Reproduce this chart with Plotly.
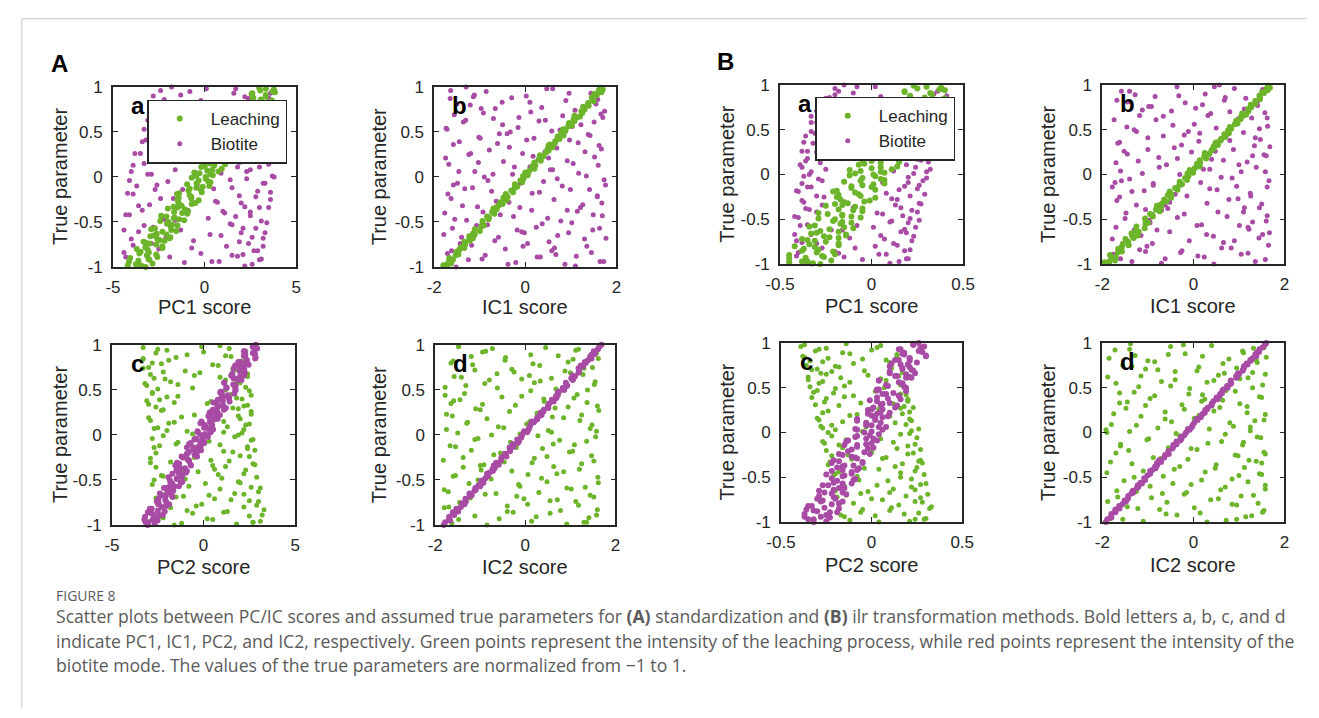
import plotly.graph_objects as go

W, H = 1319, 718
GREEN = "#6cb42a"
PURPLE = "#a84ba5"
AX = "#262626"
FONT = "Liberation Sans"

# ---------------- data ----------------
# true (normalised) parameter of each sample
LEACH_TRUE = [
    -0.99, -0.98, -0.96, -0.93, -0.92, -0.90, -0.87, -0.86, -0.83, -0.81,
    -0.79, -0.78, -0.75, -0.72, -0.71, -0.69, -0.66, -0.64, -0.63, -0.60,
    -0.58, -0.55, -0.54, -0.52, -0.49, -0.47, -0.45, -0.44, -0.41, -0.39,
    -0.36, -0.35, -0.32, -0.30, -0.28, -0.26, -0.23, -0.22, -0.19, -0.17,
    -0.15, -0.12, -0.11, -0.08, -0.06, -0.04, -0.02, 0.01, 0.02, 0.05,
    0.07, 0.09, 0.12, 0.13, 0.16, 0.18, 0.20, 0.23, 0.24, 0.27,
    0.29, 0.31, 0.33, 0.36, 0.38, 0.40, 0.42, 0.45, 0.46, 0.49,
    0.51, 0.53, 0.56, 0.57, 0.60, 0.62, 0.64, 0.67, 0.68, 0.71,
    0.73, 0.75, 0.78, 0.79, 0.82, 0.84, 0.86, 0.88, 0.91, 0.92,
    0.94, 0.96, 0.97, 0.99, -0.97, -0.68, -0.34, 0.03, 0.35, 0.66]
BIOTITE_TRUE = [
    -1.00, -0.97, -0.95, -0.94, -0.91, -0.89, -0.88, -0.85, -0.82, -0.80,
    -0.77, -0.76, -0.74, -0.71, -0.68, -0.67, -0.65, -0.62, -0.59, -0.57,
    -0.56, -0.53, -0.51, -0.48, -0.46, -0.43, -0.42, -0.40, -0.37, -0.34,
    -0.33, -0.31, -0.28, -0.25, -0.24, -0.21, -0.18, -0.16, -0.14, -0.13,
    -0.10, -0.07, -0.05, -0.03, 0.00, 0.03, 0.04, 0.06, 0.08, 0.11,
    0.14, 0.15, 0.17, 0.19, 0.22, 0.25, 0.26, 0.28, 0.30, 0.32,
    0.35, 0.37, 0.39, 0.41, 0.43, 0.44, 0.47, 0.50, 0.52, 0.54,
    0.55, 0.58, 0.61, 0.63, 0.65, 0.66, 0.69, 0.72, 0.74, 0.76,
    0.77, 0.80, 0.81, 0.83, 0.85, 0.87, 0.90, 0.93, 0.95, 0.98,
    1.00, -0.86, -0.61, -0.38, -0.09, 0.21, 0.48, 0.70, 0.89, 0.62]
# a second batch of samples, shown where the clouds / wide bands need it
LEACH_TRUE_2 = [
    -1.00, -0.97, -0.94, -0.91, -0.89, -0.85, -0.84, -0.80, -0.77, -0.74,
    -0.73, -0.70, -0.67, -0.65, -0.61, -0.59, -0.57, -0.53, -0.50, -0.48,
    -0.46, -0.43, -0.40, -0.38, -0.33, -0.31, -0.29, -0.25, -0.24, -0.20,
    -0.18, -0.14, -0.13, -0.10, -0.07, -0.05, -0.01, 0.00, 0.04, 0.06,
    0.08, 0.11, 0.14, 0.15, 0.19, 0.21, 0.22, 0.26, 0.28, 0.30,
    0.32, 0.34, 0.37, 0.39, 0.41, 0.43, 0.44, 0.47, 0.50, 0.52,
    0.55, 0.58, 0.59, 0.61, 0.63, 0.65, 0.69, 0.70, 0.72, 0.74,
    0.77, 0.80, 0.81, 0.83, 0.85, 0.87, 0.89, 0.93, 0.95, 0.98]
BIOTITE_TRUE_2 = [
    -0.99, -0.97, -0.94, -0.92, -0.89, -0.87, -0.84, -0.82, -0.79, -0.77,
    -0.74, -0.72, -0.69, -0.67, -0.64, -0.62, -0.59, -0.57, -0.54, -0.52,
    -0.49, -0.47, -0.44, -0.42, -0.39, -0.37, -0.34, -0.32, -0.29, -0.27,
    -0.24, -0.22, -0.19, -0.17, -0.14, -0.12, -0.09, -0.07, -0.04, -0.02,
    0.01, 0.03, 0.06, 0.08, 0.11, 0.13, 0.16, 0.18, 0.21, 0.23,
    0.26, 0.28, 0.31, 0.33, 0.36, 0.38, 0.41, 0.43, 0.46, 0.48,
    0.51, 0.53, 0.56, 0.58, 0.61, 0.63, 0.66, 0.68, 0.71, 0.73,
    0.76, 0.78, 0.81, 0.83, 0.86, 0.88, 0.91, 0.93, 0.96, 0.98]

# (A) standardization -------------------------------------------------
A_PC1_LEACH = [
    -3.42, -4.19, -2.84, -3.61, -3.01, -4.06, -3.15, -2.64, -3.49, -3.10,
    -2.30, -3.23, -2.64, -3.33, -2.18, -2.58, -2.96, -2.08, -2.61, -1.54,
    -2.91, -1.84, -1.48, -2.05, -2.42, -1.39, -1.64, -2.08, -0.94, -1.66,
    -1.08, -2.00, -1.25, -0.70, -1.43, -0.32, -1.41, -0.73, -1.50, -0.15,
    -0.88, -0.45, -0.10, -0.95, 0.32, -0.32, 0.07, -0.46, 0.45, -0.56,
    0.15, 0.94, 0.01, 0.53, 0.00, 1.11, 0.46, 1.05, 0.04, 0.95,
    1.34, 0.78, 1.73, 0.64, 1.51, 1.26, 1.89, 1.12, 2.28, 1.34,
    1.90, 1.17, 1.92, 2.51, 1.58, 2.45, 2.04, 2.95, 1.63, 2.86,
    2.45, 2.84, 2.15, 3.22, 2.61, 3.64, 3.08, 2.67, 3.34, 2.57,
    3.84, 3.04, 3.79, 2.98, -3.59, -1.91, -1.48, 0.33, 0.44, 2.36]
A_PC1_LEACH_2 = [
    -3.22, -3.75, -4.12, -3.06, -2.58, -3.56, -3.04, -3.70, -2.31, -3.00,
    -3.21, -2.46, -1.87, -2.76, -2.30, -1.82, -2.71, -1.77, -1.98, -1.11,
    -1.68, -2.37, -1.22, -0.91, -1.69, -1.38, -0.50, -1.48, -0.72, -0.82,
    -1.39, -0.20, -0.81, 0.26, -0.43, 0.20, -0.70, 0.06, -0.28, 0.76,
    0.43, -0.18, 1.12, 0.28, 0.98, -0.06, 0.69, 1.40, 0.51, 1.14,
    0.73, 1.76, 1.15, 1.62, 0.74, 1.53, 1.96, 1.35, 2.42, 1.21,
    2.44, 1.67, 2.18, 1.38, 2.57, 2.16, 3.02, 1.94, 2.49, 2.88,
    2.51, 3.26, 2.26, 2.97, 3.68, 2.63, 3.34, 2.61, 3.72, 3.35]
A_PC1_BIOT = [
    -3.2, 2.6, -1.1, 0.4, 3.1, -4.3, 1.8, -0.2, 2.9, -2.5,
    1.2, -3.9, 2.4, -0.6, 3.2, -2.1, 0.9, 2.0, -4.4, 2.8,
    -2.8, 1.5, 3.4, -1.6, 0.2, 2.5, -4.1, 1.1, -3.4, 3.0,
    2.2, -3.0, 0.7, 3.6, -2.4, 1.9, -4.2, 2.9, -1.2, 0.5,
    -3.7, 3.3, -2.0, 1.4, 3.8, -2.9, 0.9, -4.0, 2.5, 1.8,
    3.5, -3.3, 2.1, -2.2, 1.0, 3.0, -3.8, 1.6, -1.8, 3.7,
    -2.6, 2.7, -3.4, 3.9, -1.5, 2.2, -3.0, 3.4, -2.0, 2.9,
    3.2, -2.3, 0.2, -3.1, 3.8, -1.0, 2.6, -2.7, 0.8, 3.5,
    -2.1, 1.2, 3.3, -1.4, -0.2, 2.4, -2.8, 3.6, -0.8, 1.7,
    -1.8, 2.1, -3.6, 1.0, -2.6, 2.6, 0.5, -0.3, 2.2, -1.6]
A_PC1_BIOT_2 = [
    2.2, -3.6, 0.8, 3.0, -1.9, 1.5, -4.4, 2.7, -0.7, 3.2,
    -2.9, 1.9, -4.0, 2.6, 0.3, 3.3, -1.3, 2.1, -3.3, 1.4,
    3.1, -2.2, 1.7, -4.3, 2.5, -0.9, 3.5, -3.6, 2.0, 0.6,
    -1.7, 2.8, -3.9, 3.6, -2.7, 1.5, -0.4, 3.2, -4.1, 2.3,
    3.7, -3.1, 2.3, -1.6, 3.0, -3.9, 1.9, -2.5, 3.4, 0.2,
    -3.5, 2.0, -2.3, 3.8, -0.6, 2.5, -3.2, 3.1, -1.8, 3.6,
    2.4, -3.3, 3.7, -1.5, 3.1, -2.6, 0.4, 3.5, -3.0, -0.5,
    -2.6, 3.2, -0.9, 2.2, -2.2, 3.5, -1.3, 1.6, -2.4, 0.1]
A_IC1_LEACH = [
    -1.73, -1.80, -1.63, -1.67, -1.59, -1.67, -1.53, -1.47, -1.51, -1.45,
    -1.34, -1.42, -1.32, -1.34, -1.22, -1.23, -1.23, -1.11, -1.15, -1.00,
    -1.11, -0.97, -0.91, -0.94, -0.94, -0.81, -0.80, -0.84, -0.68, -0.73,
    -0.63, -0.70, -0.59, -0.50, -0.55, -0.41, -0.48, -0.39, -0.43, -0.27,
    -0.31, -0.23, -0.18, -0.23, -0.07, -0.11, -0.04, -0.05, 0.05, 0.00,
    0.09, 0.20, 0.15, 0.22, 0.20, 0.34, 0.30, 0.40, 0.32, 0.45,
    0.51, 0.49, 0.60, 0.54, 0.65, 0.66, 0.75, 0.71, 0.84, 0.79,
    0.88, 0.83, 0.94, 1.02, 0.96, 1.08, 1.06, 1.20, 1.08, 1.25,
    1.23, 1.30, 1.27, 1.39, 1.38, 1.50, 1.48, 1.46, 1.57, 1.51,
    1.67, 1.61, 1.70, 1.64, -1.72, -1.15, -0.64, 0.05, 0.51, 1.13]
A_IC1_BIOT = [
    -1.52, 0.87, -0.21, 1.64, -0.95, 0.33, 1.12, -1.71, 0.58, -0.44,
    1.35, -1.18, 0.05, -0.67, 1.77, -1.40, 0.71, -0.02, 1.48, -1.60,
    0.24, -0.83, 1.02, -1.29, 0.49, 1.69, -0.55, -1.77, 0.92, -0.12,
    -1.05, 1.26, -0.36, 0.63, -1.63, 1.58, 0.15, -0.74, 1.41, -1.33,
    0.81, -1.49, 0.40, 1.73, -0.90, -0.28, 1.17, -1.11, 0.55, 0.10,
    -1.68, 1.05, -0.48, 0.28, 1.52, -1.24, -0.06, 1.31, -0.79, 0.69,
    1.62, -0.61, -1.45, 0.97, 0.19, -1.02, 1.38, -0.33, 0.76, -1.74,
    -0.16, 1.22, -1.36, 0.44, -0.70, 1.70, -1.56, 0.12, 1.09, -0.97,
    0.36, -1.21, 1.55, -0.51, 0.89, -1.65, 0.02, 1.44, -0.86, 0.60,
    -1.30, 0.67, -0.08, 1.14, -1.58, 0.51, -0.40, 1.66, -1.14, 0.30]
A_IC1_BIOT_2 = [
    1.10, -0.38, 1.72, -1.25, 0.26, -0.88, 1.45, -1.62, 0.64, -0.05,
    -1.43, 0.52, 1.30, -0.59, -1.79, 0.95, -0.18, 1.63, -1.07, 0.37,
    0.78, -1.55, -0.26, 1.49, -0.93, 0.14, 1.21, -1.38, 1.68, -0.64,
    -0.47, 1.58, -1.70, 0.31, 0.99, -1.16, 1.76, -0.11, -0.82, 0.70,
    1.34, -0.71, -1.46, 0.60, -0.24, 1.60, -1.03, 0.92, -1.75, 0.17,
    -1.20, 0.43, 1.67, -0.35, -1.58, 1.16, 0.03, -0.99, 1.42, -0.57,
    0.58, -1.72, 1.03, -0.50, 1.51, -1.31, -0.14, 0.82, -0.92, 1.74,
    -0.66, 1.27, -1.50, 0.10, 1.59, -0.30, -1.12, 0.96, -1.64, 0.47]
A_PC2_LEACH = [
    1.8, -1.2, 3.1, 0.2, -2.2, 2.5, -0.6, 1.1, 3.3, -1.8,
    -0.4, 2.9, -2.5, 1.5, 0.6, -1.5, 2.2, -2.0, 3.0, 0.9,
    2.6, -2.8, 0.1, 1.9, -1.0, 2.9, -2.3, 0.8, -0.3, 2.3,
    -2.6, 1.2, 2.7, -1.8, 0.4, -2.9, 2.0, -0.9, 1.6, 2.8,
    2.4, -2.4, 0.9, -1.4, 2.6, -2.8, 1.7, -0.6, 2.1, -2.0,
    -2.7, 1.3, 2.5, -1.9, -2.9, 2.0, -1.2, 2.6, 0.7, -2.3,
    1.9, -2.6, 2.4, -1.6, -3.1, 2.1, -2.0, 1.5, -2.8, 2.5,
    -2.5, 2.3, -1.4, -3.2, 1.8, -2.1, 0.9, -2.9, 2.4, -1.0,
    1.6, -3.0, 0.5, -2.3, 2.1, -3.3, -1.5, 1.2, -2.6, 0.0,
    -2.0, 1.4, -3.3, 0.9, 2.7, -1.1, 0.5, 1.1, 0.2, -0.5]
A_PC2_LEACH_2 = [
    -1.6, 2.7, 0.5, -2.3, 3.2, 1.3, -0.9, 2.2, -0.1, 3.0,
    2.5, -2.6, 0.3, 1.7, -1.9, 3.1, -0.8, 2.0, -2.7, 1.0,
    -2.2, 2.2, -1.1, 0.6, 2.8, -2.9, 1.4, -0.5, 2.5, -2.6,
    1.1, -2.7, 2.4, -1.5, 0.3, 2.7, -2.2, 1.9, -0.9, 2.2,
    -2.5, 2.3, -1.6, 1.1, -3.0, 1.9, -0.5, 2.6, -2.2, 1.6,
    2.2, -3.0, 0.4, -2.4, 1.8, -1.4, 2.6, -2.8, 1.2, -0.6,
    -3.1, 2.0, -1.8, 1.2, -2.7, 2.4, -0.2, -2.2, 1.7, -3.3,
    0.8, -2.8, 2.0, -1.9, -3.3, 1.5, -0.9, 2.3, -2.5, -0.1]
A_PC2_BIOT = [
    -3.05, -3.16, -2.51, -2.78, -3.19, -2.43, -2.75, -2.12, -2.83, -2.27,
    -1.88, -2.45, -2.05, -2.46, -2.07, -1.74, -2.39, -1.80, -2.01, -1.35,
    -1.82, -1.24, -1.83, -1.44, -1.18, -1.70, -1.37, -0.91, -1.02, -1.54,
    -0.71, -1.45, -0.81, -1.13, -0.35, -0.91, -0.32, -0.56, -0.91, -0.28,
    -0.79, 0.00, -0.50, -0.04, -0.15, 0.39, -0.33, 0.32, 0.18, 0.07,
    0.36, -0.11, 0.59, 0.35, 0.89, 0.33, 0.75, 0.51, 1.22, 0.83,
    0.72, 1.42, 0.78, 1.39, 1.10, 1.33, 0.91, 1.75, 1.26, 1.72,
    1.75, 1.13, 2.07, 1.63, 1.99, 1.51, 2.25, 1.99, 1.65, 2.20,
    1.73, 2.32, 2.00, 2.36, 2.82, 2.27, 2.81, 2.25, 2.81, 2.69,
    2.85, -3.04, -1.67, -1.30, 0.04, 0.51, 0.99, 2.18, 2.28, 2.05]
A_PC2_BIOT_2 = [
    -2.67, -3.01, -3.23, -2.57, -2.23, -2.87, -2.49, -2.93, -2.04, -2.48,
    -2.55, -2.09, -1.70, -2.24, -1.96, -1.65, -2.16, -1.60, -1.72, -1.16,
    -1.47, -1.91, -1.18, -0.97, -1.48, -1.27, -0.69, -1.33, -0.79, -0.88,
    -1.20, -0.49, -0.80, -0.14, -0.56, -0.15, -0.71, -0.20, -0.42, 0.24,
    0.08, -0.31, 0.52, 0.03, 0.47, -0.17, 0.36, 0.77, 0.26, 0.67,
    0.45, 1.11, 0.75, 1.06, 0.54, 1.05, 1.39, 1.00, 1.68, 0.94,
    1.73, 1.24, 1.62, 1.13, 1.92, 1.68, 2.21, 1.57, 1.96, 2.22,
    2.00, 2.46, 1.90, 2.36, 2.84, 2.20, 2.69, 2.20, 2.93, 2.69]
A_IC2_LEACH = [
    0.92, -1.63, 0.14, -0.58, 1.41, -1.12, 0.55, -0.27, 1.60, -1.80,
    -0.40, 1.18, -1.46, 0.71, -0.03, 1.52, -0.89, 0.30, -1.71, 1.02,
    1.33, -0.15, -1.25, 0.48, -0.76, 1.61, -1.55, 0.06, 0.85, -0.98,
    -1.38, 0.63, 1.25, -0.47, -1.82, 0.20, 1.47, -0.70, 0.98, -1.20,
    0.38, -1.67, 1.09, -0.33, 0.76, -1.05, 1.56, -0.12, -1.50, 0.51,
    1.44, -0.60, 0.03, -1.30, 1.21, -0.85, 0.60, -1.75, 0.26, 1.63,
    -1.10, 0.95, -0.22, 1.37, -1.59, 0.41, -0.52, 1.15, -1.35, 0.12,
    0.68, -1.78, 1.53, -0.90, 0.33, -0.08, -1.42, 1.28, -0.63, 0.88,
    -0.30, 1.49, -1.17, 0.17, -1.60, 1.06, -0.44, 0.73, 1.58, -0.95,
    1.12, -0.73, 0.45, -1.48, 1.36, -0.19, -1.00, 0.58, -1.65, 0.09]
A_IC2_LEACH_2 = [
    -0.85, 1.30, -1.48, 0.24, 1.58, -0.40, 0.78, -1.70, 0.05, 1.12,
    0.55, -1.22, 1.44, -0.65, -1.80, 0.92, -0.12, 1.62, -1.05, 0.36,
    -1.60, 0.70, -0.30, 1.20, -0.92, 0.15, 1.52, -1.38, 0.48, -0.55,
    1.05, -0.20, -1.55, 0.62, 1.36, -1.12, 0.28, -0.75, 1.58, -1.75,
    -0.48, 1.48, -1.28, 0.10, 0.85, -1.62, 1.25, -0.35, -1.00, 0.66,
    1.60, -0.95, 0.42, -1.45, 1.08, -0.08, -1.78, 0.75, 1.38, -0.62,
    -1.32, 0.20, 1.55, -0.80, 0.58, -1.58, 1.00, -0.25, -1.12, 1.30,
    0.32, -1.65, 0.95, -0.45, 1.62, -1.20, 0.12, -0.88, 1.18, -1.48]
A_IC2_BIOT = [
    -1.81, -1.78, -1.67, -1.69, -1.69, -1.58, -1.60, -1.49, -1.53, -1.43,
    -1.35, -1.40, -1.32, -1.33, -1.24, -1.19, -1.24, -1.13, -1.11, -1.00,
    -1.04, -0.93, -0.98, -0.89, -0.83, -0.85, -0.80, -0.72, -0.68, -0.70,
    -0.59, -0.65, -0.54, -0.53, -0.42, -0.45, -0.34, -0.34, -0.35, -0.26,
    -0.28, -0.14, -0.18, -0.09, -0.07, 0.04, -0.03, 0.07, 0.09, 0.11,
    0.19, 0.15, 0.26, 0.26, 0.36, 0.34, 0.40, 0.41, 0.51, 0.50,
    0.53, 0.63, 0.59, 0.69, 0.68, 0.72, 0.72, 0.86, 0.83, 0.91,
    0.93, 0.90, 1.05, 1.02, 1.10, 1.05, 1.18, 1.19, 1.18, 1.28,
    1.23, 1.34, 1.32, 1.39, 1.47, 1.44, 1.54, 1.52, 1.61, 1.64,
    1.69, -1.61, -1.10, -0.73, -0.17, 0.31, 0.74, 1.19, 1.47, 1.06]

# (B) ilr transformation ----------------------------------------------
B_PC1_LEACH = [
    -0.32, -0.45, -0.22, -0.36, -0.26, -0.45, -0.30, -0.21, -0.37, -0.31,
    -0.18, -0.34, -0.25, -0.38, -0.18, -0.26, -0.33, -0.18, -0.28, -0.10,
    -0.34, -0.17, -0.11, -0.21, -0.29, -0.11, -0.16, -0.24, -0.05, -0.18,
    -0.09, -0.25, -0.13, -0.04, -0.17, 0.02, -0.18, -0.07, -0.21, 0.02,
    -0.11, -0.05, 0.01, -0.15, 0.07, -0.05, 0.02, -0.09, 0.07, -0.12,
    0.00, 0.14, -0.04, 0.05, -0.05, 0.14, 0.02, 0.11, -0.06, 0.09,
    0.15, 0.04, 0.20, 0.00, 0.15, 0.10, 0.21, 0.06, 0.26, 0.09,
    0.18, 0.05, 0.17, 0.27, 0.10, 0.25, 0.17, 0.32, 0.09, 0.29,
    0.21, 0.28, 0.15, 0.33, 0.22, 0.39, 0.29, 0.21, 0.32, 0.18,
    0.40, 0.25, 0.38, 0.23, -0.35, -0.14, -0.16, 0.05, -0.03, 0.22]
B_PC1_LEACH_2 = [
    -0.28, -0.38, -0.45, -0.27, -0.20, -0.38, -0.29, -0.42, -0.18, -0.31,
    -0.35, -0.23, -0.14, -0.30, -0.23, -0.15, -0.31, -0.16, -0.20, -0.06,
    -0.16, -0.29, -0.10, -0.05, -0.20, -0.15, -0.01, -0.19, -0.06, -0.09,
    -0.19, 0.00, -0.11, 0.07, -0.06, 0.05, -0.12, 0.01, -0.06, 0.11,
    0.05, -0.07, 0.15, 0.00, 0.12, -0.08, 0.06, 0.17, 0.01, 0.11,
    0.03, 0.21, 0.09, 0.17, 0.01, 0.14, 0.21, 0.10, 0.28, 0.06,
    0.27, 0.12, 0.21, 0.06, 0.26, 0.19, 0.33, 0.13, 0.23, 0.29,
    0.21, 0.34, 0.16, 0.28, 0.40, 0.21, 0.33, 0.18, 0.37, 0.30]
B_PC1_BIOT = [
    -0.33, 0.15, -0.05, 0.20, -0.41, 0.08, -0.18, 0.18, -0.27, 0.02,
    0.12, -0.38, 0.22, -0.12, 0.05, -0.42, 0.19, -0.22, 0.24, -0.08,
    -0.35, 0.10, 0.26, -0.40, 0.17, 0.03, -0.30, 0.22, -0.10, 0.13,
    0.27, -0.37, 0.14, -0.26, 0.21, 0.08, -0.41, 0.25, -0.33, 0.18,
    -0.38, 0.28, -0.29, 0.20, -0.34, 0.30, 0.12, -0.25, 0.24, -0.39,
    0.31, -0.36, 0.25, -0.20, 0.33, -0.30, -0.38, 0.29, -0.26, 0.22,
    -0.32, 0.35, -0.24, 0.30, -0.36, 0.37, -0.15, 0.32, -0.28, 0.27,
    0.38, -0.30, 0.33, -0.21, -0.33, 0.36, -0.12, 0.40, -0.26, 0.31,
    -0.22, 0.37, -0.12, 0.41, -0.25, 0.05, 0.34, -0.18, 0.39, -0.08,
    -0.15, -0.20, 0.18, -0.36, 0.06, 0.34, -0.33, 0.35, -0.20, -0.29]
B_PC1_BIOT_2 = [
    0.10, -0.36, 0.19, -0.15, 0.04, -0.40, 0.21, -0.09, 0.14, -0.30,
    -0.41, 0.07, 0.23, -0.33, 0.16, -0.16, 0.01, -0.39, 0.20, 0.11,
    0.21, -0.42, 0.06, 0.25, -0.34, 0.16, -0.27, 0.26, -0.38, 0.11,
    -0.30, 0.29, -0.40, 0.15, -0.35, 0.26, 0.20, -0.27, 0.30, -0.37,
    0.23, -0.33, 0.32, -0.38, 0.19, -0.28, 0.27, -0.35, 0.31, -0.24,
    -0.35, 0.36, -0.29, 0.28, -0.37, 0.33, -0.22, 0.37, -0.31, 0.24,
    0.39, -0.28, 0.35, -0.33, -0.18, 0.37, -0.24, 0.33, -0.30, 0.40,
    -0.27, 0.38, -0.15, 0.33, -0.23, 0.41, -0.10, 0.36, -0.20, 0.02]
B_IC1_LEACH = [
    -1.85, -1.95, -1.72, -1.80, -1.70, -1.83, -1.66, -1.57, -1.65, -1.57,
    -1.42, -1.55, -1.43, -1.49, -1.31, -1.34, -1.36, -1.20, -1.27, -1.07,
    -1.25, -1.05, -0.99, -1.05, -1.06, -0.89, -0.90, -0.95, -0.74, -0.82,
    -0.71, -0.80, -0.68, -0.59, -0.64, -0.49, -0.56, -0.48, -0.52, -0.35,
    -0.40, -0.31, -0.25, -0.30, -0.14, -0.18, -0.11, -0.13, -0.01, -0.08,
    0.03, 0.14, 0.08, 0.15, 0.14, 0.28, 0.24, 0.35, 0.25, 0.40,
    0.45, 0.44, 0.54, 0.51, 0.60, 0.61, 0.70, 0.68, 0.78, 0.76,
    0.83, 0.80, 0.91, 0.97, 0.94, 1.04, 1.04, 1.16, 1.07, 1.21,
    1.20, 1.27, 1.26, 1.36, 1.36, 1.46, 1.46, 1.45, 1.55, 1.51,
    1.63, 1.61, 1.68, 1.64, -1.85, -1.22, -0.73, -0.01, 0.48, 1.10]
B_IC1_BIOT = [
    0.45, -1.35, 1.58, -0.62, 0.10, -1.76, 1.20, -0.25, 0.83, -1.02,
    -1.55, 0.66, -0.09, 1.44, -1.15, 0.29, 1.67, -0.80, -1.70, 1.01,
    0.18, 1.30, -0.97, -0.35, 1.62, -1.48, 0.54, -0.70, 1.12, -1.25,
    1.50, -0.52, 0.78, -1.62, -0.14, 1.25, -1.08, 0.36, -1.78, 0.95,
    -0.88, 1.66, -1.40, 0.61, -0.30, 1.05, -1.60, 0.22, 1.38, -0.59,
    1.18, -1.21, 0.40, -0.76, 1.55, -0.04, -1.52, 0.88, -0.42, 1.34,
    -1.66, 0.12, 1.47, -1.00, 0.72, -0.20, 1.10, -1.30, 0.50, 1.63,
    -0.45, 0.93, -1.74, 1.28, -0.66, 0.32, 1.57, -1.12, 0.05, -0.92,
    1.41, -0.18, -1.44, 0.68, 1.15, -0.84, 0.26, -1.58, 1.52, -0.36,
    0.57, -1.05, 1.22, -0.56, -1.72, 1.60, -0.11, 0.80, -1.28, 0.98]
B_IC1_BIOT_2 = [
    -0.70, 1.36, -1.60, 0.24, 1.05, -0.28, -1.18, 0.62, 1.65, -0.90,
    0.90, -1.78, 0.44, 1.52, -0.52, -1.30, 1.20, 0.08, -0.95, 1.60,
    -1.50, 0.74, -0.20, 1.10, -1.05, 1.45, -0.62, 0.30, -1.68, 0.98,
    1.26, -0.40, -1.35, 0.52, 1.62, -0.88, 0.16, -1.58, 0.85, -0.12,
    -1.12, 1.58, 0.36, -0.75, 1.00, -1.70, 0.66, -0.35, 1.30, -1.45,
    0.48, -1.00, 1.68, -0.26, -1.62, 0.80, 1.36, -0.66, 0.14, -1.25,
    1.45, -1.46, 0.02, 0.95, -0.82, 1.62, -1.18, 0.38, -0.48, 1.12,
    -0.98, 0.20, 1.40, -1.68, 0.70, -0.32, 1.55, -1.40, 0.90, 0.46]
B_PC2_LEACH = [
    0.21, -0.12, 0.30, 0.02, -0.17, 0.26, 0.10, -0.05, 0.33, 0.15,
    -0.10, 0.28, 0.06, -0.19, 0.19, 0.31, -0.02, 0.24, 0.12, -0.15,
    0.27, -0.21, 0.09, 0.22, -0.08, 0.29, 0.16, -0.18, 0.04, 0.25,
    -0.24, 0.17, 0.26, -0.11, 0.08, -0.22, 0.23, 0.00, 0.27, -0.16,
    0.20, -0.26, 0.12, -0.14, 0.25, -0.22, 0.16, -0.05, 0.22, -0.27,
    -0.28, 0.19, -0.16, 0.22, -0.30, 0.10, -0.08, 0.21, -0.24, 0.16,
    0.18, -0.31, -0.06, 0.20, -0.25, -0.15, 0.19, -0.32, 0.02, -0.20,
    -0.34, 0.16, -0.12, -0.27, 0.05, -0.35, -0.02, 0.17, -0.22, -0.30,
    -0.18, -0.36, 0.10, -0.27, -0.05, -0.37, 0.14, -0.12, -0.31, 0.00,
    -0.25, -0.39, 0.05, -0.14, 0.24, -0.06, 0.28, -0.20, 0.20, -0.28]
B_PC2_LEACH_2 = [
    0.04, 0.29, -0.15, 0.18, -0.06, 0.32, 0.11, -0.18, 0.24, 0.00,
    0.27, -0.14, 0.10, -0.20, 0.22, 0.03, 0.30, -0.07, 0.16, -0.21,
    -0.20, 0.24, -0.04, 0.13, -0.23, 0.27, 0.06, -0.13, 0.20, -0.25,
    0.14, -0.18, 0.24, -0.27, 0.05, -0.09, 0.21, -0.24, 0.26, -0.03,
    -0.22, 0.13, -0.29, 0.21, -0.12, 0.17, -0.27, 0.04, 0.23, -0.18,
    0.12, -0.26, 0.20, -0.33, -0.10, 0.16, -0.21, -0.30, 0.07, -0.15,
    -0.29, 0.08, -0.35, -0.17, 0.15, -0.25, -0.04, -0.33, 0.11, -0.20,
    -0.10, -0.34, 0.08, -0.24, -0.38, 0.14, -0.16, -0.29, 0.03, -0.37]
B_PC2_BIOT = [
    -0.32, -0.35, -0.23, -0.28, -0.37, -0.23, -0.30, -0.18, -0.33, -0.22,
    -0.16, -0.27, -0.20, -0.29, -0.22, -0.16, -0.29, -0.18, -0.24, -0.11,
    -0.21, -0.10, -0.22, -0.15, -0.11, -0.22, -0.16, -0.07, -0.10, -0.22,
    -0.05, -0.21, -0.09, -0.16, -0.01, -0.13, -0.02, -0.08, -0.15, -0.03,
    -0.14, 0.01, -0.09, -0.01, -0.04, 0.06, -0.09, 0.04, 0.00, -0.03,
    0.02, -0.08, 0.06, 0.00, 0.10, -0.02, 0.06, 0.01, 0.14, 0.06,
    0.03, 0.16, 0.03, 0.15, 0.08, 0.12, 0.03, 0.19, 0.09, 0.17,
    0.17, 0.04, 0.22, 0.13, 0.19, 0.10, 0.23, 0.17, 0.10, 0.20,
    0.11, 0.21, 0.15, 0.21, 0.30, 0.18, 0.28, 0.16, 0.27, 0.23,
    0.26, -0.36, -0.16, -0.16, 0.03, 0.03, 0.04, 0.22, 0.18, 0.21]
B_PC2_BIOT_2 = [
    -0.25, -0.32, -0.37, -0.25, -0.19, -0.32, -0.26, -0.35, -0.18, -0.28,
    -0.30, -0.21, -0.14, -0.26, -0.21, -0.15, -0.27, -0.16, -0.19, -0.09,
    -0.16, -0.25, -0.11, -0.08, -0.19, -0.15, -0.05, -0.18, -0.08, -0.11,
    -0.18, -0.04, -0.11, 0.01, -0.08, 0.00, -0.13, -0.03, -0.08, 0.04,
    0.00, -0.08, 0.08, -0.03, 0.05, -0.08, 0.02, 0.09, -0.02, 0.05,
    0.00, 0.13, 0.05, 0.10, -0.01, 0.09, 0.15, 0.06, 0.19, 0.03,
    0.18, 0.08, 0.15, 0.04, 0.19, 0.14, 0.24, 0.10, 0.17, 0.21,
    0.16, 0.25, 0.13, 0.21, 0.30, 0.17, 0.26, 0.15, 0.29, 0.23]
B_IC2_LEACH = [
    -1.10, 0.72, -1.82, 1.28, -0.36, 0.15, 1.55, -0.74, -1.45, 0.95,
    1.42, -0.58, 0.38, -1.66, 1.05, -0.20, -1.25, 0.60, 1.58, -0.95,
    -0.05, 1.20, -1.52, 0.85, -0.66, 1.50, -1.90, 0.26, -0.42, 1.12,
    0.50, -1.35, 1.38, -0.12, -0.88, 0.98, -1.70, 1.55, 0.08, -0.55,
    -1.60, 0.32, 1.10, -1.02, 1.48, -0.30, 0.70, -1.40, 1.25, -0.78,
    0.88, -1.80, -0.48, 1.35, 0.02, -1.15, 1.58, -0.62, 0.45, -1.48,
    1.18, -0.25, -1.62, 0.64, -0.95, 1.45, 0.20, -1.30, 0.92, -0.08,
    -1.20, 1.52, 0.30, -0.70, 1.02, -1.88, 0.55, 1.30, -0.40, -1.05,
    0.12, -1.55, 1.40, -0.85, 0.78, 1.60, -1.28, -0.18, 1.08, -1.72,
    1.32, -0.50, 0.40, -1.38, 0.95, -0.68, 1.50, -1.92, 0.18, 0.68]
B_IC2_LEACH_2 = [
    0.30, -1.55, 1.15, -0.60, 1.52, -1.22, 0.02, 0.85, -1.88, 0.55,
    -0.92, 1.32, -0.15, -1.68, 0.70, 1.58, -0.45, 0.18, -1.30, 1.00,
    1.45, -1.10, 0.48, -0.30, -1.82, 1.22, -0.72, 0.92, 1.58, -1.42,
    -0.05, 1.08, -1.60, 0.62, -0.98, 1.40, -0.38, -1.90, 0.35, 1.25,
    -1.25, 0.80, 1.55, -0.62, 0.12, -1.75, 1.18, -0.20, 0.58, -1.05,
    1.02, -1.45, 0.25, 1.50, -0.85, -0.10, -1.62, 0.72, 1.30, -0.50,
    -1.70, 0.45, -0.40, 1.20, -1.15, 1.58, 0.08, -0.78, 0.95, -1.35,
    0.65, -1.00, 1.38, -1.85, 0.20, -0.55, 1.10, -1.40, 1.55, -0.22]
B_IC2_BIOT = [
    -1.92, -1.89, -1.80, -1.81, -1.80, -1.71, -1.72, -1.62, -1.63, -1.56,
    -1.48, -1.51, -1.44, -1.43, -1.36, -1.32, -1.33, -1.24, -1.22, -1.13,
    -1.16, -1.06, -1.08, -1.01, -0.95, -0.95, -0.90, -0.83, -0.80, -0.80,
    -0.71, -0.75, -0.64, -0.62, -0.54, -0.55, -0.46, -0.44, -0.44, -0.37,
    -0.37, -0.26, -0.27, -0.20, -0.16, -0.08, -0.12, -0.03, -0.02, 0.02,
    0.09, 0.07, 0.16, 0.17, 0.25, 0.26, 0.30, 0.32, 0.40, 0.40,
    0.44, 0.53, 0.51, 0.58, 0.59, 0.63, 0.64, 0.75, 0.74, 0.81,
    0.83, 0.82, 0.94, 0.94, 1.00, 0.98, 1.08, 1.11, 1.11, 1.19,
    1.17, 1.26, 1.25, 1.30, 1.38, 1.36, 1.44, 1.45, 1.52, 1.57,
    1.60, -1.71, -1.21, -0.84, -0.29, 0.21, 0.66, 1.09, 1.39, 0.96]

# tick labels
Y_TICKS = [-1, -0.5, 0, 0.5, 1]
Y_TICK_TEXT = ["-1", "-0.5", "0", "0.5", "1"]
PC_A_TICKS = [-5, 0, 5]
PC_A_TEXT = ["-5", "0", "5"]
IC_TICKS = [-2, 0, 2]
IC_TEXT = ["-2", "0", "2"]
PC_B_TICKS = [-0.5, 0, 0.5]
PC_B_TEXT = ["-0.5", "0", "0.5"]

SERIES_NAMES = ["Leaching", "Biotite"]
PANEL_LETTERS = ["a", "b", "c", "d"]
CAPTION_TITLE = "FIGURE 8"
CAPTION_LINES = [
    "Scatter plots between PC/IC scores and assumed true parameters for <b>(A)</b> standardization and <b>(B)</b> ilr transformation methods. Bold letters a, b, c, and d",
    "indicate PC1, IC1, PC2, and IC2, respectively. Green points represent the intensity of the leaching process, while red points represent the intensity of the",
    "biotite mode. The values of the true parameters are normalized from \u22121 to 1.",
]

# ---------------- panel layout (pixel boxes: left, top, right, bottom) ----------------
panels = [
    dict(box=(100, 80, 287, 265), xr=[-5, 5], xt=PC_A_TICKS, xtt=PC_A_TEXT, xtitle="PC1 score",
         letter=PANEL_LETTERS[0], leach=A_PC1_LEACH, leach2=A_PC1_LEACH_2,
         biot=A_PC1_BIOT, biot2=A_PC1_BIOT_2, band="leach", legend="legend", ytx=46, xty=306),
    dict(box=(428, 80, 614, 265), xr=[-2, 2], xt=IC_TICKS, xtt=IC_TEXT, xtitle="IC1 score",
         letter=PANEL_LETTERS[1], leach=A_IC1_LEACH, leach2=None,
         biot=A_IC1_BIOT, biot2=A_IC1_BIOT_2, band="leach", legend=None, ytx=372, xty=306),
    dict(box=(99, 345, 286, 530), xr=[-5, 5], xt=PC_A_TICKS, xtt=PC_A_TEXT, xtitle="PC2 score",
         letter=PANEL_LETTERS[2], leach=A_PC2_LEACH, leach2=A_PC2_LEACH_2,
         biot=A_PC2_BIOT, biot2=A_PC2_BIOT_2, band="biot", legend=None, ytx=46, xty=573),
    dict(box=(429, 345, 613, 530), xr=[-2, 2], xt=IC_TICKS, xtt=IC_TEXT, xtitle="IC2 score",
         letter=PANEL_LETTERS[3], leach=A_IC2_LEACH, leach2=A_IC2_LEACH_2,
         biot=A_IC2_BIOT, biot2=None, band="biot", legend=None, ytx=372, xty=573),
    dict(box=(781, 78, 968, 262), xr=[-0.5, 0.5], xt=PC_B_TICKS, xtt=PC_B_TEXT, xtitle="PC1 score",
         letter=PANEL_LETTERS[0], leach=B_PC1_LEACH, leach2=B_PC1_LEACH_2,
         biot=B_PC1_BIOT, biot2=B_PC1_BIOT_2, band="leach", legend="legend2", ytx=726, xty=305),
    dict(box=(1110, 78, 1296, 262), xr=[-2, 2], xt=IC_TICKS, xtt=IC_TEXT, xtitle="IC1 score",
         letter=PANEL_LETTERS[1], leach=B_IC1_LEACH, leach2=None,
         biot=B_IC1_BIOT, biot2=B_IC1_BIOT_2, band="leach", legend=None, ytx=1054, xty=305),
    dict(box=(782, 343, 967, 527), xr=[-0.5, 0.5], xt=PC_B_TICKS, xtt=PC_B_TEXT, xtitle="PC2 score",
         letter=PANEL_LETTERS[2], leach=B_PC2_LEACH, leach2=B_PC2_LEACH_2,
         biot=B_PC2_BIOT, biot2=B_PC2_BIOT_2, band="biot", legend=None, ytx=727, xty=571),
    dict(box=(1110, 343, 1296, 527), xr=[-2, 2], xt=IC_TICKS, xtt=IC_TEXT, xtitle="IC2 score",
         letter=PANEL_LETTERS[3], leach=B_IC2_LEACH, leach2=B_IC2_LEACH_2,
         biot=B_IC2_BIOT, biot2=None, band="biot", legend=None, ytx=1055, xty=571),
]


def px(xp):
    return xp / W


def py(yp):
    return 1 - yp / H


def pts(xs, ys, xs2, ys2):
    if xs2 is None:
        return list(xs), list(ys)
    return list(xs) + list(xs2), list(ys) + list(ys2)


fig = go.Figure()
annotations = []
axis_common = dict(showgrid=False, zeroline=False, showline=True, linecolor=AX, linewidth=1.6,
                   mirror="ticks", ticks="inside", ticklen=5, tickwidth=1.2, tickcolor=AX,
                   tickfont=dict(family=FONT, size=17, color=AX), tickmode="array",
                   fixedrange=True)

for i, p in enumerate(panels, start=1):
    xa = "x" if i == 1 else f"x{i}"
    ya = "y" if i == 1 else f"y{i}"
    show = p["legend"] is not None
    leg = p["legend"] or "legend"
    lx, ly = pts(p["leach"], LEACH_TRUE, p["leach2"], LEACH_TRUE_2)
    bx, by = pts(p["biot"], BIOTITE_TRUE, p["biot2"], BIOTITE_TRUE_2)
    l_size = 6 if p["band"] == "leach" else 5
    b_size = 6 if p["band"] == "biot" else 5
    leach_tr = go.Scatter(x=lx, y=ly, mode="markers", name=SERIES_NAMES[0],
                          marker=dict(color=GREEN, size=l_size, line=dict(width=0)),
                          xaxis=xa, yaxis=ya, showlegend=show, legend=leg, legendrank=1,
                          cliponaxis=False, hoverinfo="skip")
    biot_tr = go.Scatter(x=bx, y=by, mode="markers", name=SERIES_NAMES[1],
                         marker=dict(color=PURPLE, size=b_size, line=dict(width=0)),
                         xaxis=xa, yaxis=ya, showlegend=show, legend=leg, legendrank=2,
                         cliponaxis=False, hoverinfo="skip")
    order = [biot_tr, leach_tr] if p["band"] == "leach" else [leach_tr, biot_tr]
    for tr in order:
        fig.add_trace(tr)

    l, t, r, b = p["box"]
    xkey = "xaxis" if i == 1 else f"xaxis{i}"
    ykey = "yaxis" if i == 1 else f"yaxis{i}"
    fig.update_layout(**{
        xkey: dict(axis_common, domain=[px(l), px(r)], range=p["xr"], anchor=ya,
                   tickvals=p["xt"], ticktext=p["xtt"], ticklabelstandoff=4),
        ykey: dict(axis_common, domain=[py(b), py(t)], range=[-1, 1], anchor=xa,
                   tickvals=Y_TICKS, ticktext=Y_TICK_TEXT, ticklabelstandoff=5),
    })
    annotations.append(dict(x=px(l + 26), y=py(t + 19), xref="paper", yref="paper",
                            text=f"<b>{p['letter']}</b>", showarrow=False,
                            font=dict(family=FONT, size=24, color="black"),
                            xanchor="center", yanchor="middle"))
    annotations.append(dict(x=px(p["ytx"]), y=py((t + b) / 2), xref="paper", yref="paper",
                            text="True parameter", textangle=-90, showarrow=False,
                            font=dict(family=FONT, size=20, color=AX),
                            xanchor="center", yanchor="middle"))
    annotations.append(dict(x=px((l + r) / 2), y=py(p["xty"]), xref="paper", yref="paper",
                            text=p["xtitle"], showarrow=False,
                            font=dict(family=FONT, size=20, color=AX),
                            xanchor="center", yanchor="middle"))

for lab, xx, yy in (("A", 45, 56), ("B", 725, 54)):
    annotations.append(dict(x=px(xx), y=py(yy), xref="paper", yref="paper",
                            text=f"<b>{lab}</b>", showarrow=False,
                            font=dict(family=FONT, size=24, color="black"),
                            xanchor="center", yanchor="middle"))

annotations.append(dict(x=px(40), y=py(602), xref="paper", yref="paper", text=CAPTION_TITLE,
                        showarrow=False, xanchor="left", yanchor="middle",
                        font=dict(family="Open Sans", size=14, color="#5a5a5a")))
for k, line in enumerate(CAPTION_LINES):
    annotations.append(dict(x=px(40), y=py(624 + 25 * k), xref="paper", yref="paper", text=line,
                            showarrow=False, xanchor="left", yanchor="middle", align="left",
                            font=dict(family="Open Sans", size=17.6, color="#5a5a5a")))

legend_style = dict(xanchor="left", yanchor="top", bgcolor="white", bordercolor=AX,
                    borderwidth=1.5, font=dict(family=FONT, size=17, color=AX),
                    itemwidth=52, tracegroupgap=0, xref="paper", yref="paper")

fig.update_layout(
    width=W, height=H, margin=dict(l=0, r=0, t=0, b=0),
    paper_bgcolor="white", plot_bgcolor="white",
    font=dict(family=FONT, color=AX),
    showlegend=True,
    legend=dict(legend_style, x=px(135), y=py(93)),
    legend2=dict(legend_style, x=px(817), y=py(90)),
    annotations=annotations,
    shapes=[
        dict(type="line", xref="paper", yref="paper", x0=px(7), x1=1.0, y0=py(10), y1=py(10),
             line=dict(color="#c8c8c8", width=1)),
        dict(type="line", xref="paper", yref="paper", x0=px(7), x1=px(7), y0=py(10), y1=0.0,
             line=dict(color="#c8c8c8", width=1)),
    ],
)

fig.write_html("out.html", config={"displayModeBar": False},
               post_script="document.documentElement.style.margin='0px';document.body.style.margin='0px';document.body.style.overflow='hidden';")
